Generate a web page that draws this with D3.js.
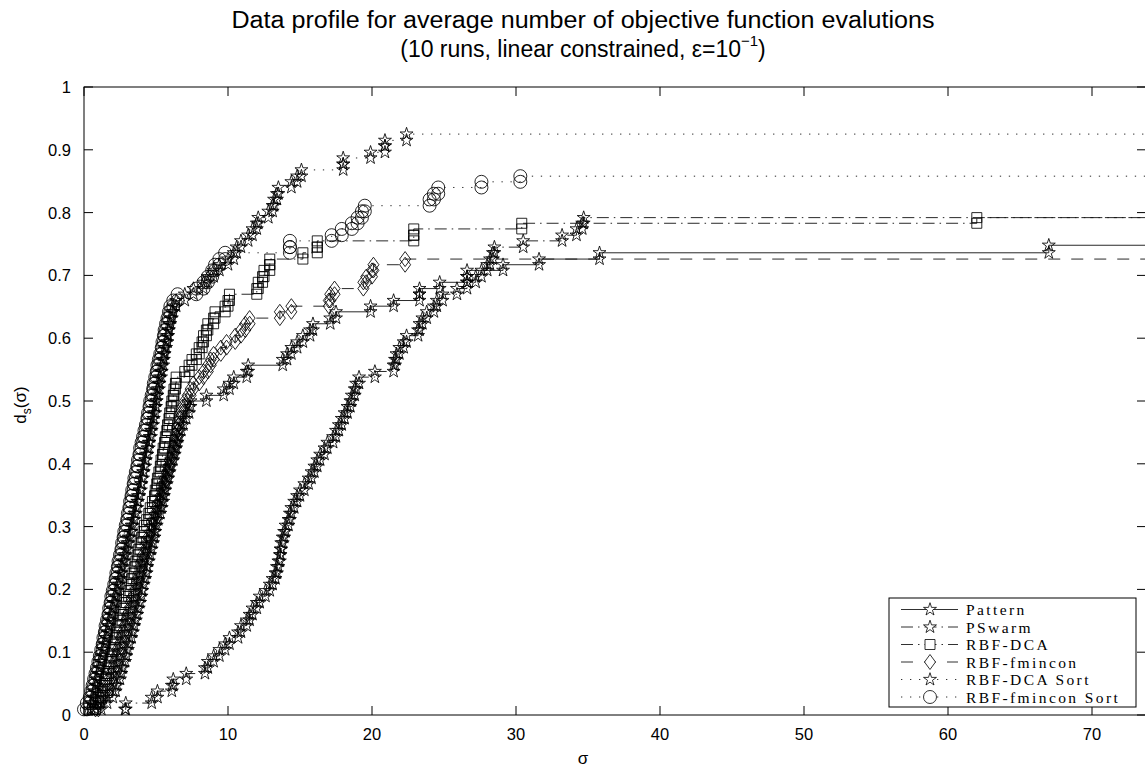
<!DOCTYPE html>
<html><head><meta charset="utf-8">
<script src="https://cdn.jsdelivr.net/npm/d3@7"></script>
<style>body{margin:0;background:#fff}svg{display:block}</style>
</head><body>
<svg id="c" width="1145" height="769"></svg>
<script>
// ---------- data ----------
const xTicks = [0,10,20,30,40,50,60,70];
const yTicks = [0,0.1,0.2,0.3,0.4,0.5,0.6,0.7,0.8,0.9,1];
const yTickLabels = ["0","0.1","0.2","0.3","0.4","0.5","0.6","0.7","0.8","0.9","1"];
const seriesNames = ["Pattern","PSwarm","RBF-DCA","RBF-fmincon","RBF-DCA Sort","RBF-fmincon Sort"];

// [sigma, d_s] break points of each data profile
const pattern = [[0.8,.009],[1.2,.019],[1.6,.028],[2.0,.038],[2.2,.047],[2.3,.057],[2.5,.066],[2.6,.075],[2.7,.085],[2.85,.094],[2.95,.104],[3.05,.113],[3.15,.123],[3.3,.132],[3.4,.142],[3.5,.151],[3.6,.160],[3.7,.170],[3.8,.179],[3.9,.189],[4.0,.198],[4.05,.208],[4.15,.217],[4.25,.226],[4.35,.236],[4.4,.245],[4.5,.255],[4.6,.264],[4.7,.274],[4.8,.283],[4.9,.292],[4.95,.302],[5.05,.311],[5.15,.321],[5.3,.330],[5.4,.340],[5.5,.349],[5.55,.358],[5.65,.368],[5.75,.377],[5.85,.387],[5.95,.396],[6.05,.406],[6.2,.415],[6.3,.425],[6.4,.434],[6.5,.443],[6.6,.453],[6.75,.462],[6.9,.472],[7.1,.481],[7.3,.491],[7.4,.500],[8.5,.509],[9.7,.519],[10.1,.528],[10.4,.538],[11.3,.547],[11.4,.557],[13.8,.566],[14.1,.575],[14.4,.585],[14.8,.594],[15.2,.604],[15.7,.613],[15.9,.623],[17.1,.632],[17.5,.642],[19.9,.651],[21.5,.660],[23.3,.670],[23.3,.679],[24.7,.689],[26.6,.698],[26.6,.708],[29.1,.717],[31.6,.726],[35.8,.736],[67.0,.748]];
const pswarm = [[2.85,.009],[2.9,.019],[4.7,.028],[5.1,.038],[6.1,.047],[6.2,.057],[7.1,.066],[8.4,.075],[8.6,.085],[9.0,.094],[9.4,.104],[9.8,.113],[10.1,.123],[10.7,.132],[10.9,.142],[11.3,.151],[11.5,.160],[11.7,.170],[12.0,.179],[12.2,.189],[12.6,.198],[12.9,.208],[13.1,.217],[13.3,.226],[13.4,.236],[13.5,.245],[13.6,.255],[13.65,.264],[13.7,.274],[13.8,.283],[13.9,.292],[14.0,.302],[14.2,.311],[14.3,.321],[14.4,.330],[14.6,.340],[14.8,.349],[15.0,.358],[15.3,.368],[15.6,.377],[15.8,.387],[16.0,.396],[16.2,.406],[16.4,.415],[16.7,.425],[16.9,.434],[17.3,.443],[17.5,.453],[17.7,.462],[17.9,.472],[18.1,.481],[18.3,.491],[18.5,.500],[18.6,.509],[18.8,.519],[18.9,.528],[19.1,.538],[20.2,.547],[21.5,.557],[21.6,.566],[21.7,.575],[21.9,.585],[22.2,.594],[22.4,.604],[23.2,.613],[23.3,.623],[23.5,.632],[23.8,.642],[24.3,.651],[24.5,.660],[24.9,.670],[25.9,.679],[26.6,.689],[27.2,.698],[27.6,.708],[28.0,.717],[28.2,.726],[28.4,.736],[28.5,.745],[30.5,.755],[33.2,.764],[34.2,.774],[34.6,.783],[34.7,.792]];
const rbfDca = [[0.6,.009],[0.8,.019],[1.0,.028],[1.15,.038],[1.3,.047],[1.45,.057],[1.55,.066],[1.7,.075],[1.8,.085],[1.9,.094],[2.0,.104],[2.1,.113],[2.2,.123],[2.3,.132],[2.45,.142],[2.55,.151],[2.65,.160],[2.75,.170],[2.85,.179],[2.95,.189],[3.1,.198],[3.2,.208],[3.3,.217],[3.4,.226],[3.5,.236],[3.6,.245],[3.7,.255],[3.8,.264],[3.9,.274],[4.0,.283],[4.1,.292],[4.2,.302],[4.35,.311],[4.5,.321],[4.6,.330],[4.75,.340],[4.9,.349],[4.95,.358],[5.05,.368],[5.1,.377],[5.2,.387],[5.3,.396],[5.35,.406],[5.45,.415],[5.5,.425],[5.6,.434],[5.65,.443],[5.75,.453],[5.8,.462],[5.9,.472],[5.95,.481],[6.05,.491],[6.1,.500],[6.2,.509],[6.25,.519],[6.35,.528],[6.4,.538],[7.0,.547],[7.3,.557],[7.5,.566],[7.8,.575],[8.0,.585],[8.2,.594],[8.3,.604],[8.5,.613],[8.6,.623],[9.0,.632],[9.1,.642],[9.8,.651],[10.0,.660],[10.1,.670],[12.0,.679],[12.1,.689],[12.4,.698],[12.5,.708],[12.9,.717],[12.9,.726],[15.2,.736],[16.2,.745],[16.2,.755],[22.9,.764],[22.9,.774],[30.4,.783],[62.0,.792]];
const rbfFmincon = [[0.8,.009],[1.0,.019],[1.2,.028],[1.4,.038],[1.55,.047],[1.7,.057],[1.85,.066],[1.95,.075],[2.1,.085],[2.2,.094],[2.3,.104],[2.45,.113],[2.55,.123],[2.65,.132],[2.8,.142],[2.9,.151],[3.0,.160],[3.15,.170],[3.25,.179],[3.4,.189],[3.5,.198],[3.6,.208],[3.7,.217],[3.8,.226],[3.9,.236],[4.0,.245],[4.1,.255],[4.25,.264],[4.35,.274],[4.45,.283],[4.6,.292],[4.7,.302],[4.8,.311],[4.95,.321],[5.05,.330],[5.2,.340],[5.3,.349],[5.4,.358],[5.5,.368],[5.6,.377],[5.75,.387],[5.85,.396],[5.95,.406],[6.1,.415],[6.2,.425],[6.3,.434],[6.4,.443],[6.5,.453],[6.55,.462],[6.6,.472],[6.7,.481],[6.85,.491],[7.0,.500],[7.2,.509],[7.4,.519],[7.6,.528],[8.0,.538],[8.3,.547],[8.6,.557],[8.8,.566],[9.0,.575],[9.5,.585],[9.9,.594],[10.5,.604],[10.9,.613],[11.2,.623],[11.5,.632],[13.6,.642],[14.4,.651],[17.0,.660],[17.1,.670],[17.4,.679],[19.4,.689],[19.6,.698],[20.0,.708],[20.1,.717],[22.3,.726]];
const rbfDcaSort = [[0.3,.009],[0.5,.019],[0.6,.028],[0.7,.038],[0.8,.047],[0.85,.057],[0.95,.066],[1.05,.075],[1.1,.085],[1.2,.094],[1.3,.104],[1.4,.113],[1.5,.123],[1.6,.132],[1.7,.142],[1.75,.151],[1.85,.160],[1.95,.170],[2.05,.179],[2.15,.189],[2.25,.198],[2.35,.208],[2.45,.217],[2.55,.226],[2.6,.236],[2.7,.245],[2.8,.255],[2.9,.264],[3.0,.274],[3.1,.283],[3.2,.292],[3.3,.302],[3.4,.311],[3.5,.321],[3.6,.330],[3.7,.340],[3.75,.349],[3.85,.358],[3.95,.368],[4.0,.377],[4.1,.387],[4.15,.396],[4.25,.406],[4.3,.415],[4.4,.425],[4.5,.434],[4.55,.443],[4.65,.453],[4.7,.462],[4.8,.472],[4.85,.481],[4.95,.491],[5.0,.500],[5.05,.509],[5.1,.519],[5.2,.528],[5.25,.538],[5.35,.547],[5.4,.557],[5.5,.566],[5.55,.575],[5.6,.585],[5.7,.594],[5.8,.604],[5.85,.613],[5.9,.623],[6.0,.632],[6.1,.642],[6.2,.651],[6.4,.660],[7.0,.670],[7.6,.679],[8.3,.689],[8.6,.698],[9.0,.708],[9.4,.717],[10.0,.726],[10.4,.736],[10.6,.745],[10.9,.755],[11.4,.764],[11.7,.774],[12.0,.783],[12.1,.792],[12.8,.802],[13.1,.811],[13.2,.821],[13.4,.830],[13.5,.840],[14.4,.849],[14.8,.858],[15.1,.868],[18.0,.877],[18.0,.887],[19.9,.896],[20.9,.906],[20.9,.915],[22.4,.925]];
const rbfFminconSort = [[0.0,.009],[0.2,.019],[0.4,.028],[0.5,.038],[0.6,.047],[0.7,.057],[0.8,.066],[0.9,.075],[1.0,.085],[1.1,.094],[1.2,.104],[1.3,.113],[1.35,.123],[1.45,.132],[1.5,.142],[1.6,.151],[1.7,.160],[1.75,.170],[1.85,.179],[1.9,.189],[2.0,.198],[2.1,.208],[2.2,.217],[2.25,.226],[2.35,.236],[2.4,.245],[2.5,.255],[2.6,.264],[2.65,.274],[2.75,.283],[2.8,.292],[2.9,.302],[3.0,.311],[3.05,.321],[3.15,.330],[3.2,.340],[3.3,.349],[3.35,.358],[3.45,.368],[3.5,.377],[3.6,.387],[3.7,.396],[3.75,.406],[3.85,.415],[3.9,.425],[4.0,.434],[4.1,.443],[4.2,.453],[4.3,.462],[4.4,.472],[4.45,.481],[4.55,.491],[4.6,.500],[4.7,.509],[4.8,.519],[4.85,.528],[4.95,.538],[5.05,.547],[5.1,.557],[5.2,.566],[5.3,.575],[5.4,.585],[5.45,.594],[5.55,.604],[5.6,.613],[5.7,.623],[5.8,.632],[5.9,.642],[6.0,.651],[6.2,.660],[6.5,.670],[7.8,.679],[8.3,.689],[8.6,.698],[8.9,.708],[9.1,.717],[9.4,.726],[9.8,.736],[14.3,.745],[14.3,.755],[17.2,.764],[17.9,.774],[18.6,.783],[19.0,.792],[19.3,.802],[19.5,.811],[24.0,.821],[24.3,.830],[24.6,.840],[27.6,.849],[30.3,.858]];

// ---------- drawing ----------
const svg = d3.select("#c");
const x = d3.scaleLinear().domain([0, 73.75]).range([84, 1146]);
const y = d3.scaleLinear().domain([0, 1]).range([715, 87]);
const [x0, x1] = x.range(), [y0, y1] = y.range();

svg.append("rect").attr("width",1145).attr("height",769).attr("fill","#fff");
svg.append("defs").append("clipPath").attr("id","pc").append("rect")
  .attr("x",x0).attr("y",y1).attr("width",x1-x0).attr("height",y0-y1);

const series = [
  {name: seriesNames[0], data: pattern,        dash: null,           marker: "star"},
  {name: seriesNames[1], data: pswarm,         dash: "12,5,1.5,5",   marker: "star"},
  {name: seriesNames[2], data: rbfDca,         dash: "12,5,1.5,5",   marker: "square"},
  {name: seriesNames[3], data: rbfFmincon,     dash: "12,11",        marker: "diamond"},
  {name: seriesNames[4], data: rbfDcaSort,     dash: "1.3,7.7",      marker: "star"},
  {name: seriesNames[5], data: rbfFminconSort, dash: "1.3,7.7",      marker: "circle"}
];

const starPath = d3.symbol(d3.symbolStar, 52)();
function markerPath(type){
  if (type === "star") return starPath;
  if (type === "square") return "M-5,-5H5V5H-5Z";
  if (type === "diamond") return "M0,-7.5L5.5,0L0,7.5L-5.5,0Z";
  return "M6.5,0A6.5,6.5 0 1,1 -6.5,0A6.5,6.5 0 1,1 6.5,0Z";
}

const plot = svg.append("g");
series.forEach(s => {
  const pts = s.data;
  let dstr = `M${x(pts[0][0])},${y(pts[0][1])}`;
  for (let i = 1; i < pts.length; i++) {
    dstr += `H${x(pts[i][0])}V${y(pts[i][1])}`;
  }
  dstr += `H${x(x.domain()[1]) + 5}`;
  plot.append("path").attr("d", dstr).attr("fill","none")
    .attr("stroke","#111").attr("stroke-width",0.9)
    .attr("stroke-dasharray", s.dash).attr("clip-path","url(#pc)");
  const marks = [];
  pts.forEach((p, i) => {
    if (i > 0) marks.push([p[0], pts[i-1][1]]);
    marks.push(p);
  });
  const mp = markerPath(s.marker);
  plot.append("g").selectAll("path").data(marks).join("path")
    .attr("d", mp)
    .attr("transform", m => `translate(${x(m[0])},${y(m[1])})`)
    .attr("fill","none").attr("stroke","#000").attr("stroke-width",0.85);
});

// axes box
const ax = svg.append("g").attr("stroke","#000").attr("stroke-width",1).attr("fill","none");
ax.append("rect").attr("x",x0).attr("y",y1).attr("width",x1-x0).attr("height",y0-y1);
const tl = 9;
xTicks.forEach(t => {
  ax.append("line").attr("x1",x(t)).attr("x2",x(t)).attr("y1",y0).attr("y2",y0-tl);
  ax.append("line").attr("x1",x(t)).attr("x2",x(t)).attr("y1",y1).attr("y2",y1+tl);
});
yTicks.forEach(t => {
  ax.append("line").attr("x1",x0).attr("x2",x0+tl).attr("y1",y(t)).attr("y2",y(t));
  ax.append("line").attr("x1",x1).attr("x2",x1-tl).attr("y1",y(t)).attr("y2",y(t));
});
const font = "Liberation Sans, Arial, Helvetica, sans-serif";
svg.append("g").selectAll("text").data(xTicks).join("text")
  .attr("x", d => x(d)).attr("y", 740).attr("text-anchor","middle")
  .attr("font-family",font).attr("font-size",16.5).text(d => d);
svg.append("g").selectAll("text").data(yTicks).join("text")
  .attr("x", 71).attr("y", d => y(d) + 6).attr("text-anchor","end")
  .attr("font-family",font).attr("font-size",16.5).text((d,i) => yTickLabels[i]);

// title
svg.append("text").attr("x",583).attr("y",28).attr("text-anchor","middle")
  .attr("font-family",font).attr("font-size",23)
  .attr("textLength",703).attr("lengthAdjust","spacingAndGlyphs")
  .text("Data profile for average number of objective function evalutions");
const t2 = svg.append("text").attr("x",583).attr("y",57).attr("text-anchor","middle")
  .attr("font-family",font).attr("font-size",23);
t2.append("tspan").text("(10 runs, linear constrained, \u03b5=10");
t2.append("tspan").attr("font-size",15).attr("dy",-11).text("\u22121");
t2.append("tspan").attr("dy",11).text(")");

// axis labels
svg.append("text").attr("x",583).attr("y",764).attr("text-anchor","middle")
  .attr("font-family",font).attr("font-size",17).text("\u03c3");
const yl = svg.append("text").attr("transform","translate(26,405) rotate(-90)")
  .attr("text-anchor","middle").attr("font-family",font).attr("font-size",17);
yl.append("tspan").text("d");
yl.append("tspan").attr("font-size",12).attr("dy",5).text("s");
yl.append("tspan").attr("dy",-5).text("(\u03c3)");

// legend
const lg = svg.append("g");
lg.append("rect").attr("x",889).attr("y",598).attr("width",247).attr("height",109)
  .attr("fill","#fff").attr("stroke","#000").attr("stroke-width",1);
series.forEach((s, i) => {
  const ly = 609.5 + i * 17.5;
  lg.append("line").attr("x1",901).attr("x2",958).attr("y1",ly).attr("y2",ly)
    .attr("stroke","#1a1a1a").attr("stroke-width",0.9).attr("stroke-dasharray", s.dash);
  lg.append("path").attr("d", markerPath(s.marker)).attr("transform",`translate(930,${ly})`)
    .attr("fill", "#fff").attr("stroke","#000").attr("stroke-width",0.8);
  lg.append("text").attr("x",966).attr("y",ly+5.5)
    .attr("font-family","Liberation Serif, DejaVu Serif, serif").attr("font-size",15.5)
    .attr("letter-spacing",2.4).text(s.name);
});
</script>
</body></html>
